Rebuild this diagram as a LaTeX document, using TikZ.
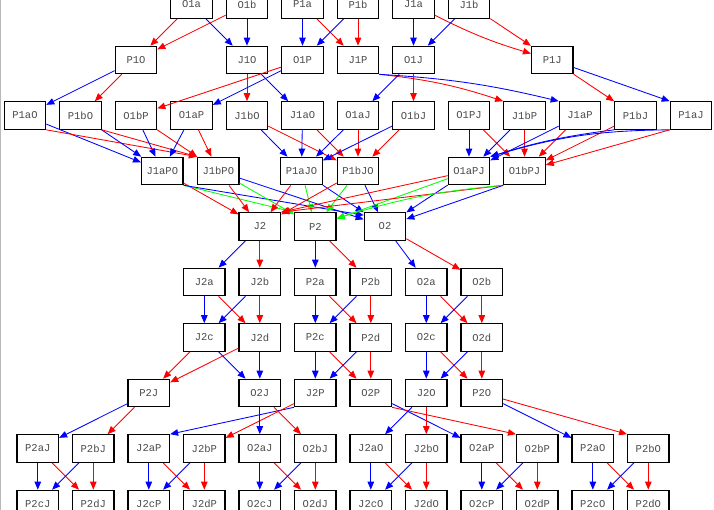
\documentclass[tikz,border=0pt]{standalone}
\usepackage{fontspec}
\setmonofont{Liberation Mono}
\usetikzlibrary{arrows.meta}
\begin{document}
\begin{tikzpicture}[x=1pt,y=1pt,
  box/.style={draw=black, line width=1.15pt, minimum width=41.5pt, minimum height=27.5pt, inner sep=0pt,
    font=\ttfamily\fontsize{10.5}{12}\selectfont, text=black!70},
  edgebase/.style={line width=0.85pt, -{Triangle[length=8pt,width=6.5pt]}},
  be/.style={edgebase, draw=blue},
  re/.style={edgebase, draw=red},
  ge/.style={edgebase, draw=green}]
\useasboundingbox (0,0) rectangle (714,-510);
\fill[white] (0,0) rectangle (714,-510);
\clip (0,0) rectangle (714,-510);
\draw[gray!55, line width=1.2pt] (0.6,0) -- (0.6,-510);
% row 1
\foreach \n/\x in {O1a/191.5, O1b/247, P1a/302.5, P1b/358, J1a/413.5, J1b/469}
  \node[box] (\n) at (\x,-4.5) {\n};
% row 2
\foreach \n/\x in {P1O/136, J1O/247, O1P/302.5, J1P/358, O1J/413.5, P1J/552.25}
  \node[box] (\n) at (\x,-60) {\n};
% row 3
\foreach \n/\x in {P1aO/25, P1bO/80.5, O1bP/136, O1aP/191.5, J1bO/247, J1aO/302.5, O1aJ/358, O1bJ/413.5, O1PJ/469, J1bP/524.5, J1aP/580, P1bJ/635.5, P1aJ/691}
  \node[box] (\n) at (\x,-115.5) {\n};
% row 4
\foreach \n/\x in {J1aPO/162.3, J1bPO/218.3, P1aJO/301.5, P1bJO/358, O1aPJ/469, O1bPJ/524.5}
  \node[box] (\n) at (\x,-171) {\n};
% row 5
\foreach \n/\x in {J2/259.8, P2/315.3, O2/385}
  \node[box] (\n) at (\x,-226.5) {\n};
% row 6
\foreach \n/\x in {J2a/204.3, J2b/259.8, P2a/315.3, P2b/370.8, O2a/426.3, O2b/481.8}
  \node[box] (\n) at (\x,-282) {\n};
% row 7
\foreach \n/\x in {J2c/204.3, J2d/259.8, P2c/315.3, P2d/370.8, O2c/426.3, O2d/481.8}
  \node[box] (\n) at (\x,-337.5) {\n};
% row 8
\foreach \n/\x in {P2J/148.8, O2J/259.8, J2P/315.3, O2P/370.8, J2O/426.3, P2O/481.8}
  \node[box] (\n) at (\x,-393) {\n};
% row 9
\foreach \n/\x in {P2aJ/37.8, P2bJ/93.3, J2aP/148.8, J2bP/204.3, O2aJ/259.8, O2bJ/315.3, J2aO/370.8, J2bO/426.3, O2aP/481.8, O2bP/537.3, P2aO/592.8, P2bO/648.3}
  \node[box] (\n) at (\x,-448.5) {\n};
% row 10
\foreach \n/\x in {P2cJ/37.8, P2dJ/93.3, J2cP/148.8, J2dP/204.3, O2cJ/259.8, O2dJ/315.3, J2cO/370.8, J2dO/426.3, O2cP/481.8, O2dP/537.3, P2cO/592.8, P2dO/648.3}
  \node[box] (\n) at (\x,-504) {\n};

% row 1 -> row 2
\draw[re] (O1a) -- (P1O); \draw[be] (O1a) -- (J1O);
\draw[re] (O1b) -- (P1O); \draw[be] (O1b) -- (J1O);
\draw[be] (P1a) -- (O1P); \draw[re] (P1a) -- (J1P);
\draw[be] (P1b) -- (O1P); \draw[re] (P1b) -- (J1P);
\draw[be] (J1a) -- (O1J); \draw[re] (J1a) to[bend right=5] (P1J);
\draw[be] (J1b) -- (O1J); \draw[re] (J1b) -- (P1J);

% row 2 -> row 3
\draw[be] (P1O) -- (P1aO); \draw[re] (P1O) -- (P1bO);
\draw[re] (J1O) -- (J1bO); \draw[be] (J1O) -- (J1aO);
\draw[re] (O1P) -- (O1bP); \draw[be] (O1P) -- (O1aP);
\draw[re] (J1P.south east) to[bend left=6] (J1bP.north west);
\draw[be] (J1P.south east) to[bend left=5] (J1aP.north west);
\draw[be] (O1J) -- (O1aJ); \draw[re] (O1J) -- (O1bJ);
\draw[re] (P1J) -- (P1bJ); \draw[be] (P1J) -- (P1aJ.north west);

% row 3 -> row 4
\draw[be] (P1aO) -- (J1aPO); \draw[re] (P1aO.south east) -- (J1bPO.north west);
\draw[be] (P1bO) -- (J1aPO); \draw[re] (P1bO.south east) -- (J1bPO.north west);
\draw[be] (O1bP) -- (J1aPO); \draw[re] (O1bP) -- (J1bPO);
\draw[be] (O1aP) -- (J1aPO); \draw[re] (O1aP) -- (J1bPO);
\draw[be] (J1bO) -- (P1aJO); \draw[re] (J1bO) -- (P1bJO);
\draw[be] (J1aO) -- (P1aJO); \draw[re] (J1aO) -- (P1bJO);
\draw[be] (O1aJ) -- (P1aJO); \draw[re] (O1aJ) -- (P1bJO);
\draw[be] (O1bJ) -- (P1aJO); \draw[re] (O1bJ) -- (P1bJO);
\draw[be] (O1PJ) -- (O1aPJ); \draw[re] (O1PJ) -- (O1bPJ);
\draw[be] (J1bP) -- (O1aPJ); \draw[re] (J1bP) -- (O1bPJ);
\draw[be] (J1aP) -- (O1aPJ); \draw[re] (J1aP) -- (O1bPJ);
\draw[be] (P1bJ.south west) to[bend right=5] (O1aPJ.north east); \draw[re] (P1bJ) -- (O1bPJ);
\draw[be] (P1aJ.south west) to[bend right=8] (O1aPJ.north east); \draw[re] (P1aJ.south west) -- (O1bPJ);

% row 4 -> row 5
\draw[re] (J1aPO) -- (J2);
\draw[ge] (J1aPO.south east) -- (P2.north west);
\draw[be] (J1aPO.south east) -- ([yshift=-3pt]O2.north west);
\draw[re] (J1bPO) -- (J2); \draw[ge] (J1bPO) -- (P2); \draw[be] (J1bPO) -- (O2);
\draw[re] (P1aJO) -- (J2); \draw[ge] (P1aJO) -- (P2); \draw[be] (P1aJO) -- (O2);
\draw[re] (P1bJO) -- (J2); \draw[ge] (P1bJO) -- (P2); \draw[be] (P1bJO) -- (O2);
\draw[re] (O1aPJ) -- (J2.north east); \draw[ge] (O1aPJ) -- (P2); \draw[be] (O1aPJ) -- (O2);
\draw[re] (O1bPJ.south west) -- (J2.north east);
\draw[ge] (O1bPJ.south west) to[bend right=6] ([yshift=8pt]P2.east);
\draw[be] (O1bPJ.south west) -- (O2);

% row 5 -> row 6
\draw[be] (J2) -- (J2a); \draw[re] (J2) -- (J2b);
\draw[be] (P2) -- (P2a); \draw[re] (P2) -- (P2b);
\draw[be] (O2) -- (O2a); \draw[re] (O2) -- (O2b);

% row 6 -> row 7 and row 9 -> row 10
\foreach \a/\b/\c/\d in {J2a/J2b/J2c/J2d, P2a/P2b/P2c/P2d, O2a/O2b/O2c/O2d,
    P2aJ/P2bJ/P2cJ/P2dJ, J2aP/J2bP/J2cP/J2dP, O2aJ/O2bJ/O2cJ/O2dJ,
    J2aO/J2bO/J2cO/J2dO, O2aP/O2bP/O2cP/O2dP, P2aO/P2bO/P2cO/P2dO} {
  \draw[be] (\a) -- (\c); \draw[re] (\a) -- (\d);
  \draw[be] (\b) -- (\c); \draw[re] (\b) -- (\d);
}

% row 7 -> row 8
\draw[re] (J2c) -- (P2J); \draw[be] (J2c) -- (O2J);
\draw[re] (J2d) -- (P2J); \draw[be] (J2d) -- (O2J);
\draw[be] (P2c) -- (J2P); \draw[re] (P2c) -- (O2P);
\draw[be] (P2d) -- (J2P); \draw[re] (P2d) -- (O2P);
\draw[be] (O2c) -- (J2O); \draw[re] (O2c) -- (P2O);
\draw[be] (O2d) -- (J2O); \draw[re] (O2d) -- (P2O);

% row 8 -> row 9
\draw[be] (P2J) -- (P2aJ); \draw[re] (P2J) -- (P2bJ);
\draw[be] (J2P.south west) -- (J2aP.north east); \draw[re] (J2P) -- (J2bP);
\draw[be] (O2J) -- (O2aJ); \draw[re] (O2J) -- (O2bJ);
\draw[be] (O2P) -- (O2aP); \draw[re] (O2P.south east) -- (O2bP.north west);
\draw[be] (J2O) -- (J2aO); \draw[re] (J2O) -- (J2bO);
\draw[be] (P2O) -- (P2aO); \draw[re] (P2O) -- (P2bO.north west);
\end{tikzpicture}
\end{document}
